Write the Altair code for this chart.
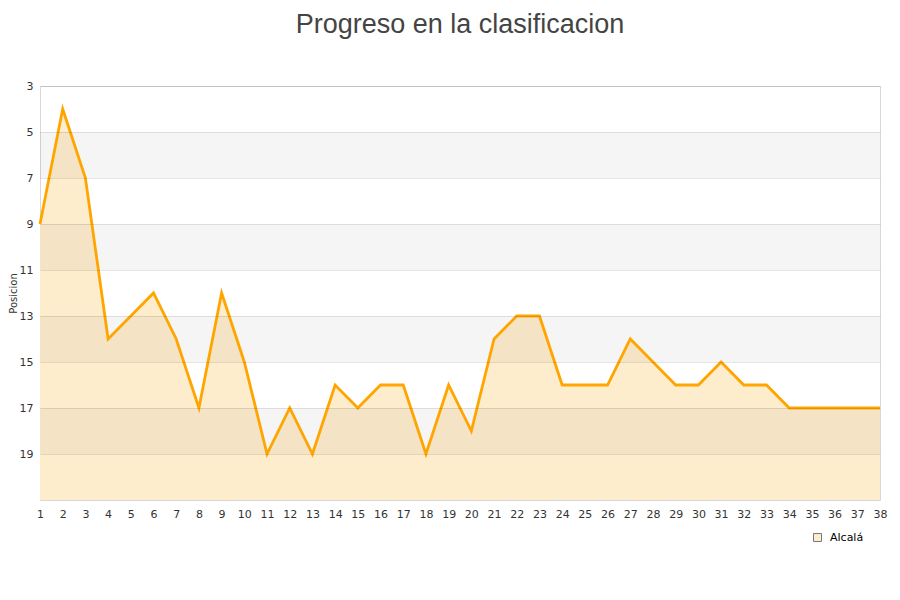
import altair as alt
import pandas as pd

jornadas = list(range(1, 39))
posicion = [9, 4, 7, 14, 13, 12, 14, 17, 12, 15,
            19, 17, 19, 16, 17, 16, 16, 19, 16, 18,
            14, 13, 13, 16, 16, 16, 14, 15, 16, 16,
            15, 16, 16, 17, 17, 17, 17, 17]
equipo = "Alcalá"
band_start = [5, 9, 13, 17]
band_end = [7, 11, 15, 19]
y_ticks = [3, 5, 7, 9, 11, 13, 15, 17, 19]

df = pd.DataFrame({"Jornada": jornadas, "Posicion": posicion, "Equipo": [equipo] * len(jornadas)})
bands = pd.DataFrame({"y0": band_start, "y1": band_end})

yscale = alt.Scale(domain=[3, 21], reverse=True, nice=False, zero=False)
xscale = alt.Scale(domain=[1, 38], nice=False, zero=False)

xaxis = alt.Axis(values=jornadas, title=None, grid=False, ticks=False,
                 domain=False, labelFont="DejaVu Sans", labelFontSize=11,
                 labelColor="#333333", labelPadding=8, labelFlush=False,
                 labelOverlap=False, labelBound=False)
yaxis = alt.Axis(values=y_ticks, title="Posicion", grid=True, gridColor="#000000",
                 gridOpacity=0.1, zindex=1,
                 ticks=False, domain=False, labelFont="DejaVu Sans", labelFontSize=11,
                 labelColor="#333333", labelPadding=7, labelOverlap=False,
                 titleFont="DejaVu Sans", titleFontSize=10, titleFontWeight="normal",
                 titleColor="#333333", titlePadding=1)

area = alt.Chart(df).mark_area(opacity=1).encode(
    x=alt.X("Jornada:Q", scale=xscale, axis=xaxis),
    y=alt.Y("Posicion:Q", scale=yscale, axis=yaxis),
    y2=alt.Y2(datum=21),
    fill=alt.Fill("Equipo:N",
                  scale=alt.Scale(domain=[equipo], range=["#feedcc"]),
                  legend=alt.Legend(title=None, orient="none", legendX=772, legendY=446,
                                    symbolType="square", symbolSize=64,
                                    symbolStrokeColor="#777777", symbolStrokeWidth=1,
                                    symbolOpacity=1,
                                    labelOffset=7,
                                    labelFont="DejaVu Sans", labelFontSize=11,
                                    labelColor="#000000")),
)

band_layer = alt.Chart(bands).mark_rect(color="#000000", opacity=0.04).encode(
    x=alt.X(datum=1, scale=xscale, axis=xaxis),
    x2=alt.X2(datum=38),
    y=alt.Y("y0:Q", scale=yscale, axis=yaxis),
    y2="y1:Q",
)

line = alt.Chart(df).mark_line(color="#ffa500", strokeWidth=2.8).encode(
    x=alt.X("Jornada:Q", scale=xscale, axis=xaxis),
    y=alt.Y("Posicion:Q", scale=yscale, axis=yaxis),
)

chart = alt.layer(area, band_layer, line).properties(
    width=840,
    height=414,
    autosize=alt.AutoSizeParams(type="none"),
    padding={"left": 32, "top": 78, "right": 12, "bottom": 80},
    title=alt.Title("Progreso en la clasificacion", font="Liberation Sans", fontSize=27,
                    fontWeight="normal", color="#444444", anchor="middle", offset=41),
).configure_view(stroke="#d8d8d8", strokeWidth=1)

chart.save("out.html", embed_options={"renderer": "svg", "actions": False})
